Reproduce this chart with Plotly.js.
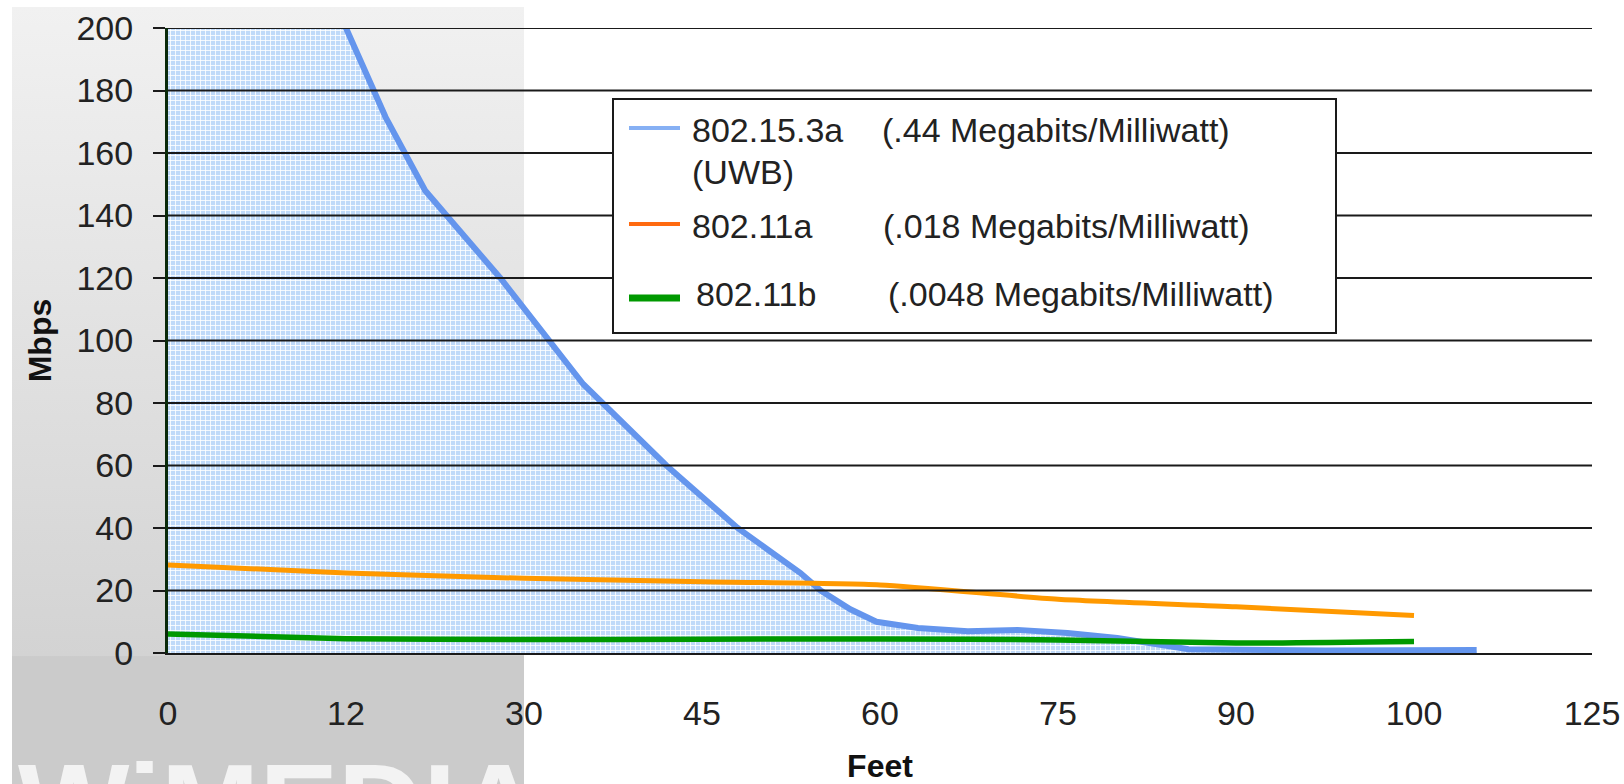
<!DOCTYPE html>
<html>
<head>
<meta charset="utf-8">
<script src="https://cdn.plot.ly/plotly-3.0.1.min.js"></script>
<style>html,body{margin:0;padding:0;background:#fff;}#chart{width:1624px;height:784px;}</style>
</head>
<body>
<div id="chart"></div>
<script>
// ---- data ----
const tickFeet = [0, 12, 30, 45, 60, 75, 90, 100, 125];
const tickText = ['0', '12', '30', '45', '60', '75', '90', '100', '125'];
const yTicks = [0, 20, 40, 60, 80, 100, 120, 140, 160, 180, 200];

const uwbFeet = [0, 12, 16, 20, 27.6, 35, 42, 48, 53.3, 55, 57.5, 59.7, 63.2, 67.4, 71.6, 75.8, 80, 84.2, 86, 95, 108.8];
const uwbMbps = [480, 200, 171.5, 148, 120, 86, 60, 40, 25.6, 20, 14, 10, 8, 7, 7.4, 6.4, 4.8, 2.6, 1.2, 0.8, 1];

const aFeet = [0, 12, 30, 45, 60, 75, 90, 100];
const aMbps = [28.2, 25.6, 23.9, 22.8, 21.8, 17.2, 14.8, 12];

const bFeet = [0, 12, 30, 45, 60, 75, 90, 100];
const bMbps = [6.1, 4.6, 4.3, 4.4, 4.5, 4.2, 3.2, 3.7];

const seriesNames = ['802.15.3a', '802.11a', '802.11b'];
const seriesNotes = ['(.44 Megabits/Milliwatt)', '(.018 Megabits/Milliwatt)', '(.0048 Megabits/Milliwatt)'];

// the category labels are evenly spaced along the axis: map feet -> label slot
function ftToPos(ft) {
  for (let i = 0; i < tickFeet.length - 1; i++) {
    if (ft <= tickFeet[i + 1]) return i + (ft - tickFeet[i]) / (tickFeet[i + 1] - tickFeet[i]);
  }
  const n = tickFeet.length - 1;
  return n + (ft - tickFeet[n]) / (tickFeet[n] - tickFeet[n - 1]);
}

// ---- layout geometry ----
const W = 1624, H = 784;
const M = {l: 168, r: 32, t: 28, b: 131};
const PW = W - M.l - M.r, PH = H - M.t - M.b;
const px = v => (v - M.l) / PW;       // page x pixel -> paper
const py = v => (H - M.b - v) / PH;   // page y pixel -> paper

const FONT = '"Liberation Sans", Arial, sans-serif';

const traces = [
  {
    x: uwbFeet.map(ftToPos), y: uwbMbps, type: 'scatter', mode: 'lines', name: seriesNames[0],
    line: {color: '#6495ed', width: 6},
    fill: 'tozeroy', fillcolor: '#c0daf9',
    fillpattern: {shape: '+', bgcolor: '#c0daf9', fgcolor: '#ffffff', size: 5, solidity: 0.3}
  },
  {
    x: aFeet.map(ftToPos), y: aMbps, type: 'scatter', mode: 'lines', name: seriesNames[1],
    line: {color: '#ff9900', width: 5, shape: 'spline', smoothing: 0.6}
  },
  {
    x: bFeet.map(ftToPos), y: bMbps, type: 'scatter', mode: 'lines', name: seriesNames[2],
    line: {color: '#009900', width: 5.5, shape: 'spline', smoothing: 0.6}
  }
];

const panelSvg = '<svg xmlns="http://www.w3.org/2000/svg" width="512" height="777" preserveAspectRatio="none">' +
  '<defs><linearGradient id="g" x1="0" y1="0" x2="0" y2="1">' +
  '<stop offset="0" stop-color="#f1f1f1"/><stop offset="0.835" stop-color="#d3d3d3"/>' +
  '<stop offset="0.836" stop-color="#cbcbcb"/><stop offset="1" stop-color="#cbcbcb"/>' +
  '</linearGradient></defs><rect x="0" y="0" width="512" height="777" fill="url(#g)"/></svg>';

const shapes = [];
// horizontal grid lines drawn over the shaded area
yTicks.forEach(v => {
  if (v === 0) return;
  shapes.push({type: 'line', xref: 'paper', yref: 'y', x0: 0, x1: 1, y0: v, y1: v,
    line: {color: '#1a1a1a', width: 2}, layer: 'above'});
});
// legend box
shapes.push({type: 'rect', xref: 'paper', yref: 'paper', x0: px(613), x1: px(1336), y0: py(333), y1: py(99),
  line: {color: '#1a1a1a', width: 2}, fillcolor: '#ffffff', layer: 'above'});
// legend samples
const sampleStyle = [
  {color: '#86b0f4', width: 4, y: 128},
  {color: '#ff6a10', width: 4, y: 224},
  {color: '#009900', width: 7, y: 298}
];
sampleStyle.forEach(s => {
  shapes.push({type: 'line', xref: 'paper', yref: 'paper', x0: px(629), x1: px(680), y0: py(s.y), y1: py(s.y),
    line: {color: s.color, width: s.width}, layer: 'above'});
});

const legFont = {family: FONT, size: 34, color: '#222222'};
const annotations = [
  {text: seriesNames[0], x: px(690), y: py(130)},
  {text: seriesNotes[0], x: px(880), y: py(130)},
  {text: '(UWB)', x: px(690), y: py(172)},
  {text: seriesNames[1], x: px(690), y: py(226)},
  {text: seriesNotes[1], x: px(881), y: py(226)},
  {text: seriesNames[2], x: px(694), y: py(294)},
  {text: seriesNotes[2], x: px(886), y: py(294)}
].map(a => Object.assign({xref: 'paper', yref: 'paper', xanchor: 'left', yanchor: 'middle',
  showarrow: false, font: legFont}, a));

// faded watermark at the bottom of the grey panel (cut by the page edge, as in the original)
annotations.push({text: 'WiMEDIA', xref: 'paper', yref: 'paper', x: px(16), y: py(738),
  xanchor: 'left', yanchor: 'top', showarrow: false,
  font: {family: FONT, size: 118, color: '#f3f3f3', weight: 700}});

const layout = {
  width: W, height: H,
  margin: M,
  paper_bgcolor: '#ffffff',
  plot_bgcolor: 'rgba(0,0,0,0)',
  showlegend: false,
  hovermode: false,
  font: {family: FONT, color: '#222222'},
  images: [{
    source: 'data:image/svg+xml;charset=utf-8,' + encodeURIComponent(panelSvg),
    xref: 'paper', yref: 'paper', x: px(12), y: py(7), sizex: 512 / PW, sizey: 777 / PH,
    xanchor: 'left', yanchor: 'top', sizing: 'stretch', layer: 'below'
  }],
  xaxis: {
    range: [0, tickFeet.length - 1],
    tickmode: 'array', tickvals: tickFeet.map(ftToPos), ticktext: tickText,
    ticks: '', showgrid: false, zeroline: false,
    showline: true, linecolor: '#1a1a1a', linewidth: 2,
    ticklabelstandoff: 29,
    tickfont: {family: FONT, size: 34, color: '#222222'},
    title: {text: 'Feet', standoff: 35, font: {family: FONT, size: 32, color: '#111111', weight: 700}}
  },
  yaxis: {
    range: [0, 200],
    tickmode: 'array', tickvals: yTicks,
    ticks: 'outside', ticklen: 12, tickwidth: 2, tickcolor: '#1a1a1a',
    showgrid: false, zeroline: false,
    showline: true, linecolor: '#0a2a0a', linewidth: 3,
    ticklabelstandoff: 13,
    tickfont: {family: FONT, size: 34, color: '#222222'},
    title: {text: 'Mbps', standoff: 16, font: {family: FONT, size: 32, color: '#111111', weight: 700}}
  },
  shapes: shapes,
  annotations: annotations
};

Plotly.newPlot('chart', traces, layout, {staticPlot: true, displayModeBar: false});
</script>
</body>
</html>
